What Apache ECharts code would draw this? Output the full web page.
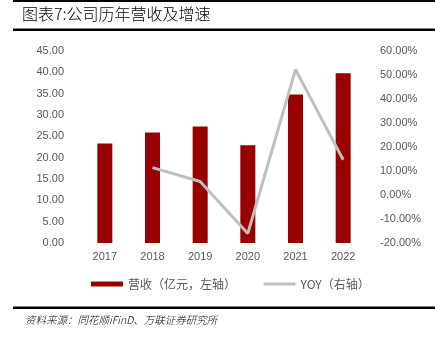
<!DOCTYPE html>
<html>
<head>
<meta charset="utf-8">
<script src="https://cdn.jsdelivr.net/npm/echarts@6/dist/echarts.min.js"></script>
<style>
  html, body { margin: 0; padding: 0; background: #fff; }
  #chart { width: 435px; height: 339px; }
</style>
</head>
<body>
<div id="chart"></div>
<script>
// Annual revenue (100m CNY, left axis) and YoY growth (%, right axis)
const years = ['2017', '2018', '2019', '2020', '2021', '2022'];
const revenue = [23.3, 25.9, 27.3, 22.9, 34.8, 39.8];
const yoy = [null, 11.4, 5.6, -16.0, 52.3, 14.7];

const titleText = '图表7:公司历年营收及增速';
const sourceText = '资料来源：同花顺iFinD、万联证券研究所';
const revenueName = '营收（亿元，左轴）';
const yoyName = 'YOY（右轴）';

const labelColor = '#595959';
const cjkFont = '"Noto Sans CJK SC", "Noto Sans", sans-serif';
const numFont = '"Liberation Sans", Arial, sans-serif';

const chart = echarts.init(document.getElementById('chart'), null, { renderer: 'canvas' });

chart.setOption({
  animation: false,
  backgroundColor: '#fff',
  textStyle: { fontFamily: numFont },
  grid: { left: 81, right: 68, top: 51, bottom: 96, containLabel: false },
  legend: {
    left: 91,
    top: 278,
    padding: 0,
    itemWidth: 32,
    itemHeight: 5,
    itemGap: 26,
    textStyle: { color: labelColor, fontSize: 12, fontFamily: cjkFont },
    data: [
      { name: revenueName, icon: 'rect' },
      { name: yoyName, itemStyle: { color: 'rgba(0,0,0,0)', borderWidth: 0 }, lineStyle: { color: '#BFBFBF', width: 3 } }
    ]
  },
  xAxis: {
    type: 'category',
    data: years,
    axisLine: { show: false },
    axisTick: { show: false },
    axisLabel: { color: labelColor, fontSize: 11, margin: 8 }
  },
  yAxis: [
    {
      type: 'value',
      min: 0, max: 45, interval: 5,
      axisLine: { show: false },
      axisTick: { show: false },
      splitLine: { show: false },
      axisLabel: {
        color: labelColor, fontSize: 11, margin: 17,
        formatter: v => v.toFixed(2)
      }
    },
    {
      type: 'value',
      min: -20, max: 60, interval: 10,
      alignTicks: false,
      axisLine: { show: false },
      axisTick: { show: false },
      splitLine: { show: false },
      axisLabel: {
        color: labelColor, fontSize: 11, margin: 13,
        formatter: v => v.toFixed(2) + '%'
      }
    }
  ],
  series: [
    {
      name: revenueName,
      type: 'bar',
      yAxisIndex: 0,
      data: revenue,
      barWidth: 15,
      itemStyle: { color: '#990000' }
    },
    {
      name: yoyName,
      type: 'line',
      yAxisIndex: 1,
      data: yoy,
      symbol: 'none',
      connectNulls: false,
      lineStyle: { color: '#BFBFBF', width: 3 },
      itemStyle: { color: '#BFBFBF' }
    }
  ],
  graphic: [
    // frame rules
    { type: 'rect', shape: { x: 13, y: 0, width: 422, height: 2 }, style: { fill: '#000' } },
    { type: 'rect', shape: { x: 13, y: 28.5, width: 422, height: 2.5 }, style: { fill: '#000' } },
    { type: 'rect', shape: { x: 13, y: 306.5, width: 422, height: 2.5 }, style: { fill: '#000' } },
    {
      type: 'text', left: 22, top: 6,
      style: { text: titleText, fill: '#000', font: '300 16px ' + cjkFont }
    },
    {
      type: 'text', left: 25, top: 315,
      style: { text: sourceText, fill: '#000', font: 'italic 300 10.5px ' + cjkFont }
    }
  ]
});
</script>
</body>
</html>
